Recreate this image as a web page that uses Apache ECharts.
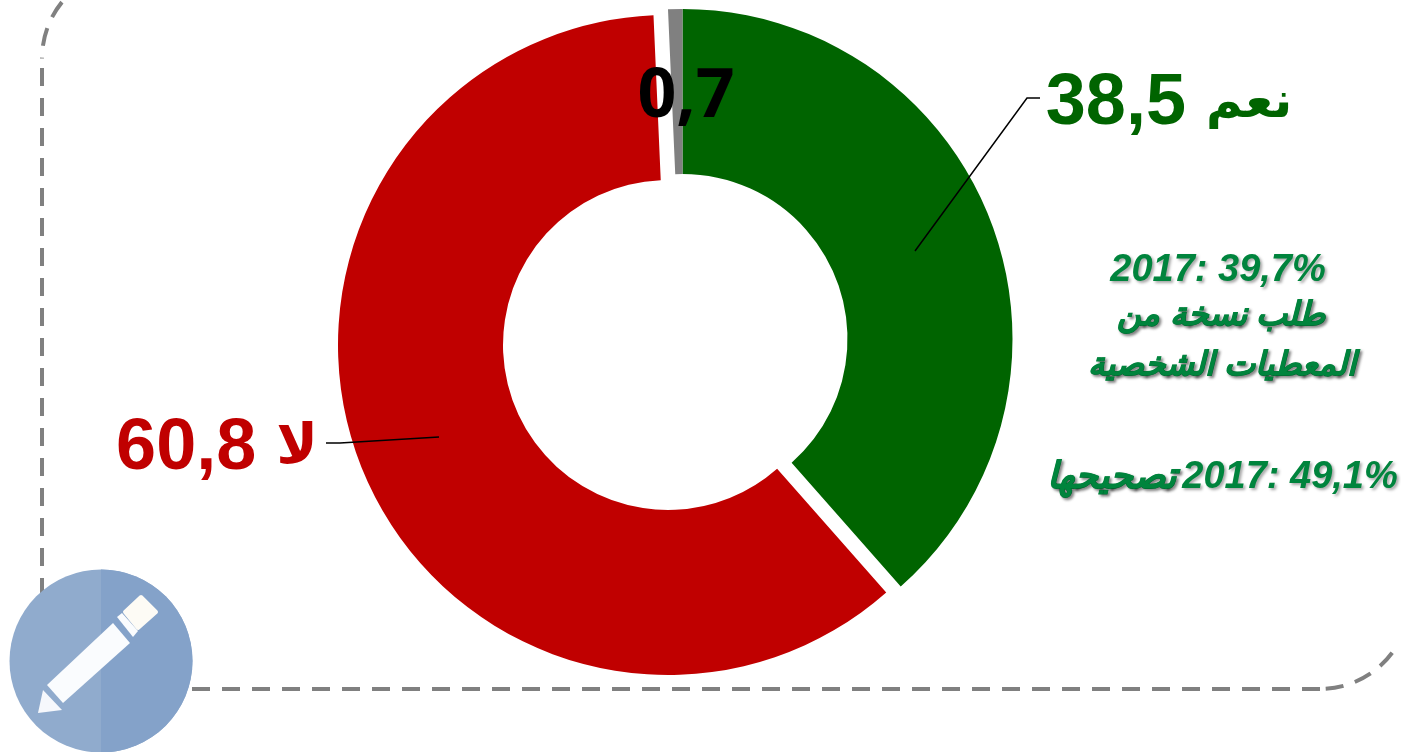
<!DOCTYPE html>
<html>
<head>
<meta charset="utf-8">
<style>
  html, body { margin: 0; padding: 0; background: #fff; }
  #main { width: 1401px; height: 752px; }
</style>
<script src="https://cdn.jsdelivr.net/npm/echarts@6/dist/echarts.min.js"></script>
</head>
<body>
<div id="main"></div>
<script>
var categories = ["نعم", "لا", ""];
var values = [38.5, 60.8, 0.7];
var valueTexts = ["38,5", "60,8", "0,7"];
var colors = ["#006400", "#C00000", "#808080"];
var noteLines = ["2017: 39,7%", "طلب نسخة من", "المعطيات الشخصية"];
var noteLastValue = "2017: 49,1%";
var noteLastWord = "تصحيحها";

var myChart = echarts.init(document.getElementById("main"), null, { renderer: "canvas" });

var latin = '"Liberation Sans", "DejaVu Sans", sans-serif';

// label anchor per slice
var labelPos = [
  { x: 1169, y: 104, color: "#006400", size: 72, arabicSize: 50, font: latin, weight: "bold" },
  { x: 217, y: 449, color: "#C00000", size: 72, arabicSize: 56, font: latin, weight: "bold" },
  { x: 686, y: 98, color: "#000", size: 68, arabicSize: 68, font: '"Open Sans", sans-serif', weight: "bold" }
];

// the slices are pulled apart, so each group gets its own centre
function sliceData(show) {
  return categories.map(function (name, i) {
    var on = show.indexOf(i) >= 0;
    var p = labelPos[i];
    return {
      name: name,
      value: values[i],
      itemStyle: { color: on ? colors[i] : "rgba(0,0,0,0)" },
      label: {
        show: on,
        position: "inside",
        formatter: name ? "{n|" + valueTexts[i] + " }{a|" + name + "}" : "{n|" + valueTexts[i] + "}",
        rich: {
          n: { color: p.color, fontSize: p.size, fontWeight: p.weight, fontFamily: p.font },
          a: { color: p.color, fontSize: p.arabicSize, fontWeight: "bold", fontFamily: '"DejaVu Sans", sans-serif' }
        }
      }
    };
  });
}

function pieSeries(center, show) {
  return {
    type: "pie",
    center: center,
    radius: [165, 330],
    startAngle: 90,
    clockwise: true,
    silent: true,
    animation: false,
    z: 2,
    labelLine: { show: false },
    data: sliceData(show),
    labelLayout: function (params) {
      var p = labelPos[params.dataIndex];
      return { x: p.x, y: p.y, align: "center", verticalAlign: "middle" };
    }
  };
}

function noteText(text, x, y, size, extra) {
  return {
    type: "text",
    x: x,
    y: y,
    z: 5,
    style: Object.assign({
      text: text,
      fill: "#00843D",
      font: "italic bold " + size + "px " + latin,
      textAlign: "center",
      textVerticalAlign: "middle",
      textShadowColor: "rgba(0,0,0,0.35)",
      textShadowBlur: 3,
      textShadowOffsetX: 2,
      textShadowOffsetY: 2
    }, extra || {})
  };
}

var arabicStroke = { stroke: "#00843D", lineWidth: 0.8 };
var frameStyle = { fill: "none", stroke: "#808080", lineWidth: 4, lineDash: [18, 12] };

var option = {
  animation: false,
  backgroundColor: "#fff",
  series: [
    pieSeries([682.5, 339], [0, 2]),
    pieSeries([668, 345], [1])
  ],
  graphic: [
    // dashed frame, open at the top and on the right
    { type: "arc", z: 0, shape: { cx: 132, cy: 58.6, r: 90, startAngle: 3.82, endAngle: Math.PI, clockwise: false }, style: frameStyle },
    { type: "line", z: 0, shape: { x1: 42, y1: 68, x2: 42, y2: 599 }, style: frameStyle },
    { type: "line", z: 0, shape: { x1: 132, y1: 689, x2: 1320, y2: 689 }, style: frameStyle },
    { type: "arc", z: 0, shape: { cx: 1320, cy: 599, r: 90, startAngle: 0.64, endAngle: Math.PI / 2, clockwise: true }, style: frameStyle },
    // leader lines
    {
      type: "polyline",
      z: 6,
      shape: { points: [[915, 251], [1027, 98], [1040, 98]] },
      style: { fill: "none", stroke: "#000", lineWidth: 1.5 }
    },
    {
      type: "polyline",
      z: 6,
      shape: { points: [[439, 437], [340, 443], [326, 443]] },
      style: { fill: "none", stroke: "#000", lineWidth: 1.5 }
    },
    noteText(noteLines[0], 1218, 271, 38),
    noteText(noteLines[1], 1221, 316, 33, arabicStroke),
    noteText(noteLines[2], 1222, 366, 33, arabicStroke),
    noteText(noteLastValue, 1290, 478, 38),
    noteText(noteLastWord, 1111, 478, 37, arabicStroke),
    // pencil badge
    { type: "circle", z: 7, shape: { cx: 101, cy: 661, r: 91.5 }, style: { fill: "#90ABCD" } },
    { type: "sector", z: 7, shape: { cx: 101, cy: 661, r: 91.5, r0: 0, startAngle: -Math.PI / 2, endAngle: Math.PI / 2 }, style: { fill: "#84A2C9" } },
    { type: "polygon", z: 8, shape: { points: [[113, 623], [130, 643], [63, 703], [47, 685]] }, style: { fill: "#FAFCFE" } },
    { type: "polygon", z: 8, shape: { points: [[117, 617], [122, 613], [138, 631], [133, 637]] }, style: { fill: "#FAFCFE" } },
    { type: "polygon", z: 8, shape: { points: [[125, 612], [141, 597], [156, 612], [138, 628]] }, style: { fill: "#FDFBF5", stroke: "#FDFBF5", lineWidth: 4, lineJoin: "round" } },
    { type: "polygon", z: 8, shape: { points: [[43, 690], [62, 710], [38, 713]] }, style: { fill: "#F6F8FC" } }
  ]
};

myChart.setOption(option);
</script>
</body>
</html>
